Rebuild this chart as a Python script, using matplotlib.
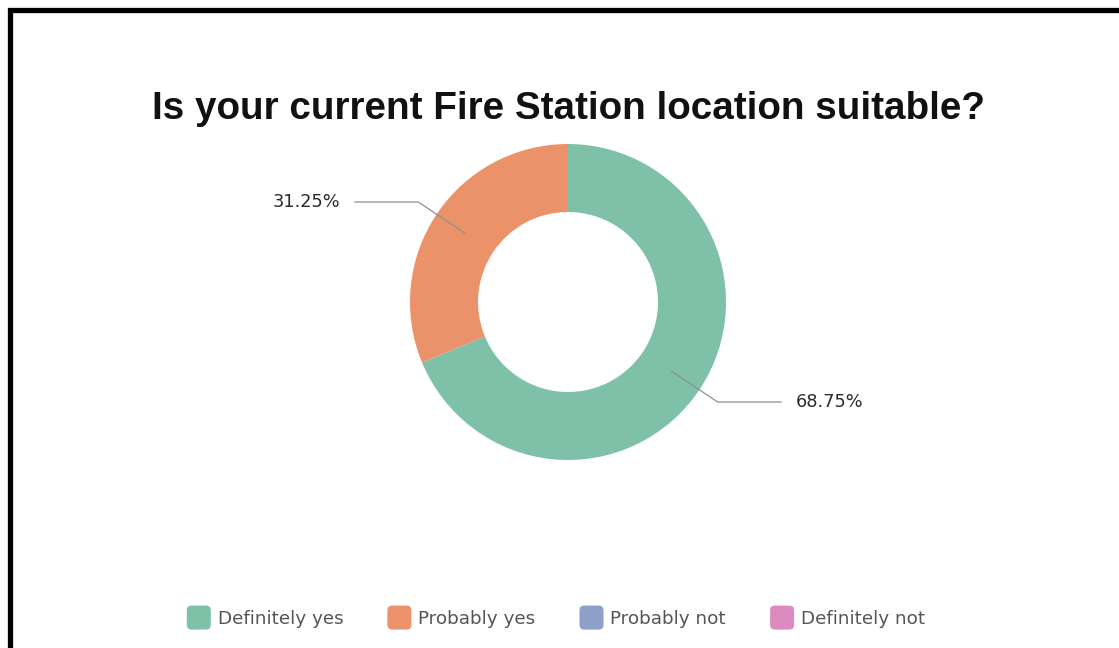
import numpy as np
import matplotlib
matplotlib.use("Agg")
import matplotlib.pyplot as plt
from matplotlib.patches import FancyBboxPatch, Patch
from matplotlib.legend_handler import HandlerPatch
from matplotlib.lines import Line2D

TITLE = "Is your current Fire Station location suitable?"
CATEGORIES = ["Definitely yes", "Probably yes", "Probably not", "Definitely not"]
SHARES = [68.75, 31.25, 0.0, 0.0]
COLORS = ["#7fc0a8", "#ec926a", "#8ea0c8", "#dd8ac0"]

W, H = 1119, 648
plt.rcParams["font.family"] = ["DejaVu Sans"]


class RoundSquare(HandlerPatch):
    # legend key drawn as a small rounded square
    def create_artists(self, legend, orig, xd, yd, width, height, fontsize, trans):
        s = width
        p = FancyBboxPatch((xd, yd + (height - s) / 2), s, s,
                           boxstyle="round,pad=0,rounding_size=%g" % (s * 0.2),
                           facecolor=orig.get_facecolor(), edgecolor="none",
                           transform=trans)
        return [p]


fig = plt.figure(figsize=(W / 100, H / 100), dpi=100)
ax = fig.add_axes([0, 0, 1, 1])

cx, cy = 568, H - 302
r_out, r_in = 158, 90
wedges, _ = ax.pie(SHARES, colors=COLORS, startangle=90, counterclock=False,
                   radius=r_out, center=(cx, cy), frame=True,
                   wedgeprops=dict(width=r_out - r_in, linewidth=0))
ax.set_xlim(0, W)
ax.set_ylim(0, H)
ax.set_aspect("equal")
ax.axis("off")

# leader lines + percentage labels
for w, v in zip(wedges, SHARES):
    if v <= 0:
        continue
    ang = np.deg2rad((w.theta1 + w.theta2) / 2)
    c, s = np.cos(ang), np.sin(ang)
    p0 = (cx + 124 * c, cy + 124 * s)
    p1 = (cx + 180 * c, cy + 180 * s)
    sign = 1 if c > 0 else -1
    p2 = (p1[0] + sign * 64, p1[1])
    ax.plot([p0[0], p1[0], p2[0]], [p0[1], p1[1], p2[1]],
            color="#8f8f8f", lw=0.9, solid_capstyle="butt")
    ax.text(p2[0] + sign * 14, p2[1], f"{v:.2f}%",
            ha="left" if sign > 0 else "right", va="center",
            fontsize=12.8, color="#2b2b2b")

ax.text(cx, H - 119, TITLE, ha="center", va="baseline",
        fontsize=27.8, fontweight="bold", color="#111111",
        family="Liberation Sans")

handles = [Patch(facecolor=c, label=l) for c, l in zip(COLORS, CATEGORIES)]
fig.legend(handles=handles, loc="center", bbox_to_anchor=(556 / W, 1 - 619 / H),
           ncol=4, frameon=False, fontsize=13.2, labelcolor="#555555",
           handler_map={Patch: RoundSquare()}, handlelength=1.31,
           handletextpad=0.38, columnspacing=2.4)

# screenshot frame (left and top edges)
fig.add_artist(Line2D([9.5 / W, 9.5 / W, 1], [0, 1 - 10 / H, 1 - 10 / H],
                      color="black", lw=3.8, solid_joinstyle="miter",
                      transform=fig.transFigure))

fig.savefig("out.png", dpi=100, facecolor="white")
